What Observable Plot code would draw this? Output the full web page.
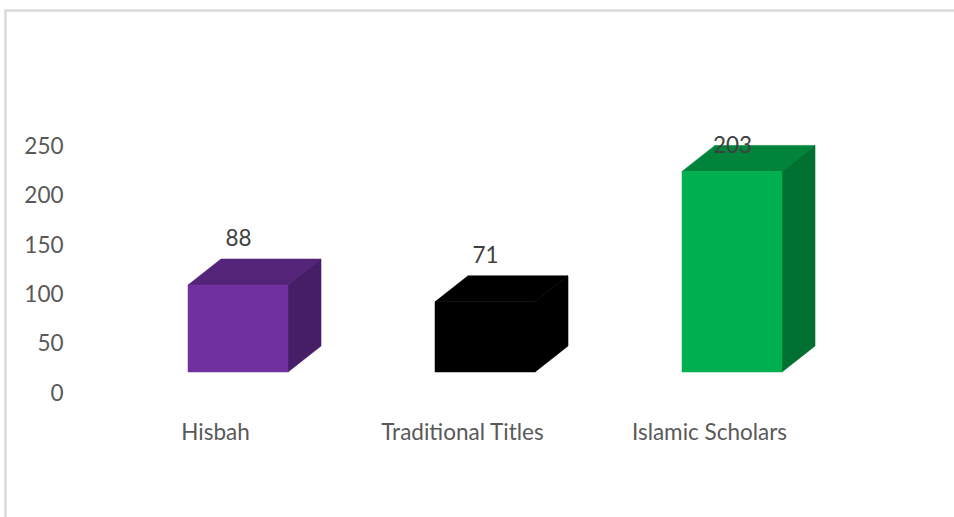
<!DOCTYPE html>
<html>
<head>
<meta charset="utf-8">
<script src="https://cdn.jsdelivr.net/npm/d3@7"></script>
<script src="https://cdn.jsdelivr.net/npm/@observablehq/plot@0.6"></script>
<style>
  html, body { margin: 0; padding: 0; background: #fff; }
  #chart { width: 954px; height: 517px; overflow: hidden; }
</style>
</head>
<body>
<div id="chart"></div>
<script>
// ---- data ----
const categories = ["Hisbah", "Traditional Titles", "Islamic Scholars"];
const values = [88, 71, 203];
const frontColors = ["#7030a0", "#000000", "#00b050"];
const topColors = ["#53247a", "#000000", "#00843c"];
const sideColors = ["#461e68", "#000000", "#007030"];
const yTicks = [0, 50, 100, 150, 200, 250];

const data = categories.map((c, i) => ({
  category: c, value: values[i],
  front: frontColors[i], top: topColors[i], side: sideColors[i]
}));

// ---- style constants ----
const W = 954, H = 517;
const depthX = 33, depthY = -26;      // 3D extrusion offset (pixels)
const labelLift = 47;                 // value label offset above the front face (pixels)
const fontFamily = "Lato, 'Open Sans', sans-serif";

// 3D faces (top + side) drawn through Plot's scales
function faces(index, scales) {
  const svg = d3.create("svg:g");
  const x = scales.x, y = scales.y;
  const bw = x.bandwidth ? x.bandwidth() : 100;
  for (const d of data) {
    const x0 = x(d.category), x1 = x0 + bw;
    const yt = y(d.value), yb = y(0);
    // top face
    svg.append("path")
      .attr("d", `M${x0},${yt}L${x0 + depthX},${yt + depthY}L${x1 + depthX},${yt + depthY}L${x1},${yt}Z`)
      .attr("fill", d.top).attr("stroke", d.top).attr("stroke-width", 0.6);
    // side face
    svg.append("path")
      .attr("d", `M${x1},${yt}L${x1 + depthX},${yt + depthY}L${x1 + depthX},${yb + depthY}L${x1},${yb}Z`)
      .attr("fill", d.side).attr("stroke", d.side).attr("stroke-width", 0.6);
  }
  return svg.node();
}

const yTop = 250;
const pxPerUnit = (372 - 125) / 250;
const maxLabel = (372 - 145) / pxPerUnit;

const chart = Plot.plot({
  width: W,
  height: H,
  marginLeft: 70,
  marginRight: 54,
  marginTop: 125,
  marginBottom: 145,
  style: { fontFamily, fontSize: "22px", color: "#595959", background: "#fff", overflow: "visible" },
  x: { type: "band", domain: categories, paddingInner: 0.5968, paddingOuter: 0.4718, label: null },
  y: { domain: [0, yTop], label: null },
  marks: [
    faces,
    Plot.barY(data, { x: "category", y: "value", fill: d => d.front, stroke: d => d.front, strokeWidth: 0.5, inset: 0 }),
    Plot.text(data, {
      x: "category",
      y: d => Math.min(d.value + labelLift / pxPerUnit, maxLabel),
      text: d => String(d.value),
      fill: "#404040",
      fontSize: 22.5
    }),
    Plot.axisY({ ticks: yTicks, tickSize: 0, tickPadding: 7, dy: 21, fontSize: 22.5, fill: "#595959", label: null }),
    Plot.axisX({ tickSize: 0, tickPadding: 52, dx: -23, fontSize: 22.5, fill: "#595959", label: null })
  ]
});

// chart border (light gray rectangle extending past right/bottom edges)
d3.select(chart).insert("rect", ":first-child")
  .attr("x", 5.5).attr("y", 10.5)
  .attr("width", W + 20).attr("height", H + 20)
  .attr("fill", "#fff")
  .attr("stroke", "#d9d9d9")
  .attr("stroke-width", 2.5);

document.getElementById("chart").appendChild(chart);
</script>
</body>
</html>
